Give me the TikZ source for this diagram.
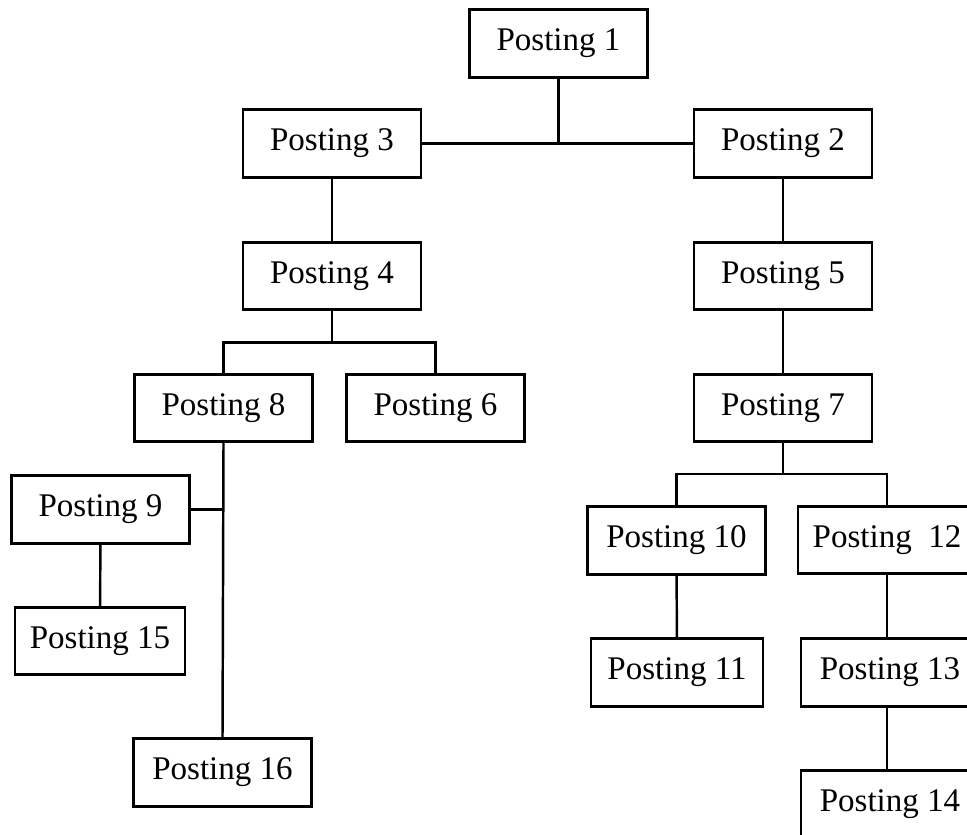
\documentclass[tikz,border=0pt]{standalone}
\usepackage{fontspec}
\setmainfont{Liberation Serif}
\tikzset{
  post/.style={draw=black,line width=0.8pt,rectangle,minimum width=1.78cm,
    minimum height=0.675cm,inner sep=0pt,font=\fontsize{9.4pt}{11pt}\selectfont},
  link/.style={line width=0.7pt}
}
\begin{document}
\begin{tikzpicture}[scale=1]
\clip (0,0) rectangle (9.67,-8.35);
\node[post] (p1) at (5.585,-0.435) {Posting 1};
\node[post] (p3) at (3.32,-1.435) {Posting 3};
\node[post] (p2) at (7.83,-1.435) {Posting 2};
\node[post] (p4) at (3.32,-2.76) {Posting 4};
\node[post] (p5) at (7.83,-2.76) {Posting 5};
\node[post] (p8) at (2.235,-4.08) {Posting 8};
\node[post] (p6) at (4.355,-4.08) {Posting 6};
\node[post] (p7) at (7.83,-4.08) {Posting 7};
\node[post] (p9) at (1.005,-5.095) {Posting 9};
\node[post,minimum width=1.70cm] (p15) at (1.00,-6.41) {Posting 15};
\node[post] (p16) at (2.225,-7.725) {Posting 16};
\node[post] (p10) at (6.765,-5.405) {Posting 10};
\node[post,minimum width=1.72cm] (p11) at (6.77,-6.725) {Posting 11};
\node[post] (p12) at (8.87,-5.40) {Posting~~12};
\node[post] (p13) at (8.90,-6.725) {Posting 13};
\node[post] (p14) at (8.90,-8.04) {Posting 14};
\coordinate (b4) at (3.32,-3.425);
\coordinate (b7) at (7.83,-4.74);
% top level
\draw[link] (p1.south) |- (p3.east);
\draw[link] (p1.south) |- (p2.west);
\draw[link] (p3) -- (p4);
\draw[link] (p2) -- (p5);
\draw[link] (p5) -- (p7);
% left branch
\draw[link] (p4.south) -- (b4);
\draw[link] (p8.north) |- (b4) -| (p6.north);
\draw[link] (p8.south) -- (p16.north);
\draw[link] (p9.east) -- (p9.east -| p16.north);
\draw[link] (p9) -- (p15);
% right branch
\draw[link] (p7.south) -- (b7);
\draw[link] (p10.north) |- (b7) -| (p12.north);
\draw[link] (p10) -- (p11);
\draw[link] (p12.south) -- (p12.south |- p13.north);
\draw[link] (p12.south |- p13.south) -- (p12.south |- p14.north);
\end{tikzpicture}
\end{document}
